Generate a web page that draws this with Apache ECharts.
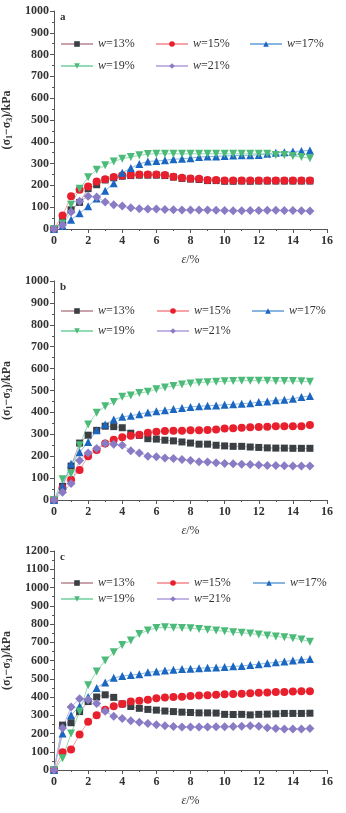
<!DOCTYPE html>
<html><head><meta charset="utf-8">
<script src="https://cdn.jsdelivr.net/npm/echarts@6/dist/echarts.min.js"></script>
<style>html,body{margin:0;padding:0;background:#fff;}#c{width:346px;height:813px;}</style>
</head><body><div id="c"></div>
<script>
const strain = [0,0.5,1,1.5,2,2.5,3,3.5,4,4.5,5,5.5,6,6.5,7,7.5,8,8.5,9,9.5,10,10.5,11,11.5,12,12.5,13,13.5,14,14.5,15];
const names = ['w=13%','w=15%','w=17%','w=19%','w=21%'];
const panelLabels = ['a','b','c'];
const xTicks = [0,2,4,6,8,10,12,14,16];
const yMaxA = 1000, yMaxB = 1000, yMaxC = 1200;

// panel a
const a13 = [0,38,88,122,185,203,225,235,242,245,247,247,247,245,238,232,229,227,222,222,219,219,220,219,220,220,220,220,220,220,220];
const a15 = [0,62,150,180,195,218,228,238,245,248,250,250,250,248,240,235,232,230,225,225,222,222,223,222,223,223,223,223,223,223,223];
const a17 = [0,15,43,72,104,140,175,210,258,280,298,310,312,315,320,322,325,330,332,333,335,337,338,338,340,345,350,352,355,358,360];
const a19 = [0,25,111,185,237,272,292,310,322,330,338,344,345,345,345,345,345,345,345,345,345,345,345,345,345,345,340,340,335,330,325];
const a21 = [0,18,78,127,150,147,124,111,105,97,93,92,92,90,88,87,87,87,87,86,85,84,84,85,85,86,86,85,85,84,83];
// panel b
const b13 = [0,62,155,260,296,318,337,335,330,305,295,280,278,273,270,265,260,255,255,250,247,245,245,242,240,238,237,237,236,236,236];
const b15 = [0,55,92,137,200,228,258,275,287,293,298,307,312,315,316,316,318,318,320,322,326,328,330,332,333,335,337,337,337,337,342];
const b17 = [0,65,165,218,265,318,345,368,380,385,392,400,405,410,415,420,425,428,430,432,435,437,440,442,447,450,455,458,462,470,475];
const b19 = [0,95,120,250,345,398,428,448,471,477,489,494,506,514,521,527,532,537,538,540,542,543,545,545,545,545,543,543,543,542,540];
const b21 = [0,35,75,180,215,235,258,255,250,225,215,200,197,192,190,185,180,175,173,170,167,165,163,162,160,158,157,156,155,155,155];
// panel c
const c13 = [0,246,259,320,375,400,412,398,362,348,338,332,328,323,320,317,315,313,313,312,305,304,305,302,305,306,308,310,310,310,311];
const c15 = [0,97,112,195,265,300,330,350,362,375,380,385,393,397,400,402,406,408,410,413,415,417,418,420,423,425,427,428,430,431,432];
const c17 = [0,200,300,350,400,450,480,505,515,520,525,535,540,545,550,553,555,558,560,562,565,568,570,575,580,585,590,595,600,605,608];
const c19 = [0,65,200,320,465,540,600,645,685,710,745,765,778,782,780,778,777,772,768,765,760,755,752,748,742,737,732,727,722,715,703];
const c21 = [0,230,345,390,385,365,322,295,282,270,262,255,248,243,238,236,235,235,236,237,237,238,240,242,240,232,228,225,225,225,228];

const panelData = [[a13,a15,a17,a19,a21],[b13,b15,b17,b19,b21],[c13,c15,c17,c19,c21]];
const yMax = [yMaxA, yMaxB, yMaxC];

const FONT = 'Liberation Serif';
const symColor = ['#3a3f44','#e8202e','#1a66c0','#4cba78','#8a7cc4'];
const lineColor = ['#c8a3ab','#f5a3a6','#88b6e0','#93dbb4','#c2b4e4'];
const symbols = ['rect','circle','triangle','triangle','diamond'];
const symRot = [0,0,0,180,0];
const symSize = [7,8,8,8,9];

const grids = [
  {left:54, top:11, width:273, height:218, outerBoundsMode:'none', containLabel:false},
  {left:54, top:281, width:273, height:219, outerBoundsMode:'none', containLabel:false},
  {left:54, top:551, width:273, height:219, outerBoundsMode:'none', containLabel:false}
];
const legendRows = [[42,64],[309,329],[581,597]];
const legendCols = [[60,155,249],[60,156,251],[60,156,252]];

const xAxes = [], yAxes = [], series = [], legends = [], titles = [];
const legendFmt = n => '{i|w}' + n.slice(1);
for (let p = 0; p < 3; p++) {
  xAxes.push({
    gridIndex:p, type:'value', min:0, max:16, interval:2,
    name:'{i|ε}/%', nameLocation:'middle', nameGap:25,
    nameTextStyle:{fontFamily:FONT, fontSize:12, color:'#333', rich:{i:{fontStyle:'italic', fontFamily:FONT, fontSize:12, color:'#333'}}},
    axisLine:{lineStyle:{color:'#555', width:1}},
    axisTick:{length:4, lineStyle:{color:'#555'}},
    minorTick:{show:true, splitNumber:2, length:2, lineStyle:{color:'#555'}},
    splitLine:{show:false},
    axisLabel:{fontFamily:FONT, fontSize:12, fontWeight:'bold', color:'#333', margin:6, formatter:v => String(v)}
  });
  yAxes.push({
    gridIndex:p, type:'value', min:0, max:yMax[p], interval:100,
    name:'(σ{s|1}−σ{s|3})/kPa', nameLocation:'middle', nameGap:38, nameRotate:90,
    nameTextStyle:{fontFamily:FONT, fontSize:12, fontWeight:'bold', color:'#333', rich:{s:{fontSize:8, fontFamily:FONT, color:'#333', verticalAlign:'bottom', padding:[6,0,0,0]}}},
    axisLine:{show:true, lineStyle:{color:'#555', width:1}},
    axisTick:{length:4, lineStyle:{color:'#555'}},
    minorTick:{show:true, splitNumber:2, length:2, lineStyle:{color:'#555'}},
    splitLine:{show:false},
    axisLabel:{fontFamily:FONT, fontSize:12, fontWeight:'bold', color:'#333', margin:5, formatter:v => String(v)}
  });
  titles.push({text:panelLabels[p], left:60, top:grids[p].top+1, padding:0, textStyle:{fontFamily:FONT, fontSize:11, fontWeight:'bold', color:'#333'}});
  for (let k = 0; k < 5; k++) {
    series.push({
      type:'line', name:names[k], xAxisIndex:p, yAxisIndex:p,
      data: strain.map((x,i) => [x, panelData[p][k][i]]),
      symbol:symbols[k], symbolRotate:symRot[k], symbolSize:symSize[k],
      showAllSymbol:true,
      itemStyle:{color:symColor[k]},
      lineStyle:{color:lineColor[k], width:1},
      emphasis:{disabled:true}, animation:false
    });
    const row = k < 3 ? 0 : 1, col = k < 3 ? k : k - 3;
    legends.push({
      data:[names[k]], left:legendCols[p][col], top:legendRows[p][row]-4,
      padding:0, itemWidth:32, itemHeight:7, itemGap:5, selectedMode:false,
      formatter:legendFmt,
      textStyle:{fontFamily:FONT, fontSize:12, color:'#333', rich:{i:{fontStyle:'italic', fontFamily:FONT, fontSize:12, color:'#333'}}}
    });
  }
}

const chart = echarts.init(document.getElementById('c'), null, {renderer:'canvas'});
chart.setOption({
  animation:false,
  backgroundColor:'#fff',
  title:titles,
  grid:grids,
  xAxis:xAxes,
  yAxis:yAxes,
  legend:legends,
  series:series
});
</script></body></html>
